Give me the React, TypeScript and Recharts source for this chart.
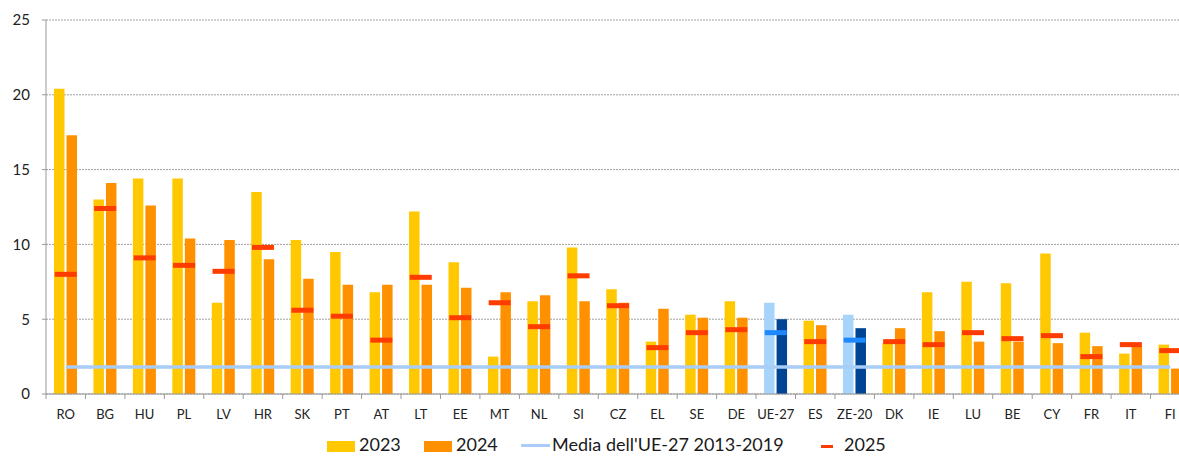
import { ComposedChart, Bar, Line, XAxis, YAxis, CartesianGrid, Cell } from "recharts";

// Andamento per paese
const countries = [
  "RO", "BG", "HU", "PL", "LV", "HR", "SK", "PT", "AT", "LT",
  "EE", "MT", "NL", "SI", "CZ", "EL", "SE", "DE", "UE-27", "ES",
  "ZE-20", "DK", "IE", "LU", "BE", "CY", "FR", "IT", "FI",
];
const values2023 = [
  20.4, 13.0, 14.4, 14.4, 6.1, 13.5, 10.3, 9.5, 6.8, 12.2,
  8.8, 2.5, 6.2, 9.8, 7.0, 3.5, 5.3, 6.2, 6.1, 4.9,
  5.3, 3.4, 6.8, 7.5, 7.4, 9.4, 4.1, 2.7, 3.3,
];
const values2024 = [
  17.3, 14.1, 12.6, 10.4, 10.3, 9.0, 7.7, 7.3, 7.3, 7.3,
  7.1, 6.8, 6.6, 6.2, 6.1, 5.7, 5.1, 5.1, 5.0, 4.6,
  4.4, 4.4, 4.2, 3.5, 3.5, 3.4, 3.2, 3.2, 1.7,
];
const values2025 = [
  8.0, 12.4, 9.1, 8.6, 8.2, 9.8, 5.6, 5.2, 3.6, 7.8,
  5.1, 6.1, 4.5, 7.9, 5.9, 3.1, 4.1, 4.3, 4.1, 3.5,
  3.6, 3.5, 3.3, 4.1, 3.7, 3.9, 2.5, 3.3, 2.9,
];
const mediaUE27 = 1.8;
const aggregates = ["UE-27", "ZE-20"];
const yTicks = [0, 5, 10, 15, 20, 25];

const YELLOW = "#ffc800";
const ORANGE = "#ff9100";
const LIGHT_BLUE = "#a6d4fa";
const DARK_BLUE = "#004494";
const RED = "#ff3c00";
const MARK_BLUE = "#1e88ff";
const MEDIA_COLOR = "#a9cdf6";
const FONT = "Lato, 'Liberation Sans', sans-serif";

const CHART_W = 1190;
const Y_AXIS_W = 46;
const BAND = (CHART_W - Y_AXIS_W) / countries.length;

const data = countries.map((country, i) => ({
  country,
  y2023: values2023[i],
  y2024: values2024[i],
  y2025: values2025[i],
  media: mediaUE27,
}));

const MarkerDot = (props: any) => {
  const { cx, cy, payload, index } = props;
  if (cx == null || cy == null) return null;
  const color = aggregates.includes(payload.country) ? MARK_BLUE : RED;
  return <rect key={index} x={cx - 11} y={cy - 2.5} width={22} height={5} fill={color} />;
};

const CountryTick = (props: any) => {
  const { x, y, payload } = props;
  const half = payload.offset || BAND / 2;
  return (
    <g>
      <line x1={x - half} x2={x - half} y1={y} y2={y + 5} stroke="#999" />
      <text x={x} y={y + 25} textAnchor="middle" fontSize={13} fill="#222" fontFamily={FONT}>
        {payload.value}
      </text>
    </g>
  );
};

const legendText = { position: "absolute" as const, top: 434, fontSize: 18, color: "#1a1a1a", lineHeight: "21.6px" };

const App = () => {
  return (
    <div
      style={{
        position: "absolute",
        left: 0,
        top: 0,
        width: 1179,
        height: 456,
        overflow: "hidden",
        background: "#fff",
        fontFamily: FONT,
      }}
    >
      <ComposedChart
        width={CHART_W}
        height={456}
        data={data}
        margin={{ top: 20, right: 0, left: 0, bottom: 32 }}
        barGap={2}
        barSize={10.5}
      >
        <CartesianGrid vertical={false} stroke="#a0a0a0" strokeDasharray="2 1" />
        <XAxis
          dataKey="country"
          interval={0}
          stroke="#999"
          tickLine={false}
          tickSize={0}
          tickMargin={0}
          tick={<CountryTick />}
        />
        <YAxis
          width={Y_AXIS_W}
          domain={[0, 25]}
          ticks={yTicks}
          stroke="#999"
          tickSize={4}
          tickMargin={12}
          tick={{ fontSize: 15, fill: "#222", fontFamily: FONT }}
        />
        <Bar dataKey="y2023" fill={YELLOW} isAnimationActive={false}>
          {data.map((d) => (
            <Cell key={d.country} fill={aggregates.includes(d.country) ? LIGHT_BLUE : YELLOW} />
          ))}
        </Bar>
        <Bar dataKey="y2024" fill={ORANGE} isAnimationActive={false}>
          {data.map((d) => (
            <Cell key={d.country} fill={aggregates.includes(d.country) ? DARK_BLUE : ORANGE} />
          ))}
        </Bar>
        <Line
          dataKey="media"
          stroke={MEDIA_COLOR}
          strokeWidth={3.5}
          dot={false}
          activeDot={false}
          isAnimationActive={false}
        />
        <Line
          dataKey="y2025"
          stroke="none"
          dot={(p: any) => <MarkerDot {...p} />}
          activeDot={false}
          isAnimationActive={false}
        />
      </ComposedChart>

      <div style={{ position: "absolute", left: 327, top: 441, width: 28, height: 11, background: YELLOW }} />
      <div style={{ ...legendText, left: 359 }}>2023</div>
      <div style={{ position: "absolute", left: 424, top: 441, width: 28, height: 11, background: ORANGE }} />
      <div style={{ ...legendText, left: 456 }}>2024</div>
      <div style={{ position: "absolute", left: 521, top: 444, width: 29, height: 3, background: MEDIA_COLOR }} />
      <div style={{ ...legendText, left: 552 }}>Media dell'UE-27 2013-2019</div>
      <div style={{ position: "absolute", left: 821, top: 445, width: 12, height: 3, background: RED }} />
      <div style={{ ...legendText, left: 844 }}>2025</div>
    </div>
  );
};

export default App;
